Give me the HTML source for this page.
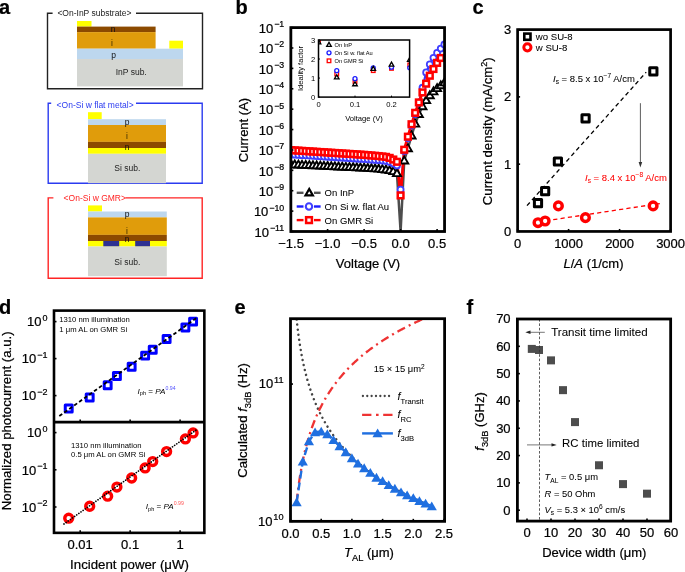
<!DOCTYPE html>
<html><head><meta charset="utf-8"><style>
html,body{margin:0;padding:0;background:#fff;width:685px;height:572px;overflow:hidden}
svg{display:block;will-change:transform}
text{font-family:'Liberation Sans', sans-serif}
</style></head><body>
<svg width="685" height="572" viewBox="0 0 685 572" font-family="'Liberation Sans', sans-serif">
<rect width="685" height="572" fill="#fff"/>
<text x="-1" y="14" font-size="20" font-weight="bold" stroke="#000" stroke-width="0.22">a</text>
<text x="235.5" y="14" font-size="20" font-weight="bold" stroke="#000" stroke-width="0.22">b</text>
<text x="472.5" y="14" font-size="20" font-weight="bold" stroke="#000" stroke-width="0.22">c</text>
<text x="-1" y="314" font-size="20" font-weight="bold" stroke="#000" stroke-width="0.22">d</text>
<text x="234.5" y="314.3" font-size="20" font-weight="bold" stroke="#000" stroke-width="0.22">e</text>
<text x="466.5" y="313.6" font-size="20" font-weight="bold" stroke="#000" stroke-width="0.22">f</text>
<path d="M52.6,13.2 H47.5 V88.8 H202.5 V13.2 H136" fill="none" stroke="#222" stroke-width="1.4"/>
<rect x="77" y="21" width="14.5" height="5.6" fill="#ffff00"/>
<rect x="77" y="26.6" width="78.6" height="5.5" fill="#8c4a00"/>
<rect x="77" y="32.1" width="78.6" height="16.6" fill="#e09c0b"/>
<rect x="169.3" y="40.7" width="13.7" height="8" fill="#ffff00"/>
<rect x="77" y="48.7" width="106" height="10.3" fill="#bdd7ee"/>
<rect x="77" y="59" width="106" height="27.4" fill="#d4d6d2"/>
<text x="57.4" y="16.1" font-size="8.5" fill="#1a1a1a" stroke="#1a1a1a" stroke-width="0">&lt;On-InP substrate&gt;</text>
<text x="113" y="31.7" font-size="8.5" text-anchor="middle" fill="#111" stroke="#111" stroke-width="0">n</text>
<text x="112" y="45.7" font-size="8.5" text-anchor="middle" fill="#3a2a00" stroke="#3a2a00" stroke-width="0">i</text>
<text x="113.5" y="58.3" font-size="8.5" text-anchor="middle" fill="#111" stroke="#111" stroke-width="0">p</text>
<text x="115.7" y="75" font-size="8.5" fill="#222" stroke="#222" stroke-width="0">InP sub.</text>
<path d="M51.2,103.2 H48.2 V183.2 H202.2 V103.2 H136" fill="none" stroke="#2b3bf0" stroke-width="1.4"/>
<rect x="88" y="112.2" width="13.7" height="7" fill="#ffff00"/>
<rect x="88" y="119.2" width="78" height="5.8" fill="#bdd7ee"/>
<rect x="88" y="125" width="78" height="16.9" fill="#e09c0b"/>
<rect x="88" y="141.9" width="78" height="6.1" fill="#8c4a00"/>
<rect x="88" y="148" width="78" height="5.8" fill="#ffff00"/>
<rect x="88" y="153.8" width="78" height="29.4" fill="#d4d6d2"/>
<text x="56.6" y="107.6" font-size="8.5" fill="#2b3bf0" stroke="#2b3bf0" stroke-width="0">&lt;On-Si w flat metal&gt;</text>
<text x="127" y="125" font-size="8.5" text-anchor="middle" fill="#111" stroke="#111" stroke-width="0">p</text>
<text x="126.9" y="138.6" font-size="8.5" text-anchor="middle" fill="#3a2a00" stroke="#3a2a00" stroke-width="0">i</text>
<text x="127" y="150.3" font-size="8.5" text-anchor="middle" fill="#111" stroke="#111" stroke-width="0">n</text>
<text x="114.3" y="171.3" font-size="8.5" fill="#222" stroke="#222" stroke-width="0">Si sub.</text>
<path d="M53.4,197.9 H48.2 V278.3 H202.2 V197.9 H125.5" fill="none" stroke="#ff2424" stroke-width="1.4"/>
<rect x="88" y="205.4" width="14" height="6.1" fill="#ffff00"/>
<rect x="88" y="211.5" width="78.8" height="5.9" fill="#bdd7ee"/>
<rect x="88" y="217.4" width="78.8" height="17.5" fill="#e09c0b"/>
<rect x="88" y="234.9" width="78.8" height="6.1" fill="#8c4a00"/>
<rect x="88" y="241" width="78.8" height="5.5" fill="#ffff00"/>
<rect x="103.3" y="241" width="15.9" height="5.5" fill="#2e3192"/>
<rect x="135.2" y="241" width="14.8" height="5.5" fill="#2e3192"/>
<rect x="88" y="246.5" width="78.8" height="29.7" fill="#d4d6d2"/>
<text x="63.6" y="200.8" font-size="8.5" fill="#ff2424" stroke="#ff2424" stroke-width="0">&lt;On-Si w GMR&gt;</text>
<text x="127" y="217.1" font-size="8.5" text-anchor="middle" fill="#111" stroke="#111" stroke-width="0">p</text>
<text x="126.9" y="233.7" font-size="8.5" text-anchor="middle" fill="#3a2a00" stroke="#3a2a00" stroke-width="0">i</text>
<text x="127" y="242.4" font-size="8.5" text-anchor="middle" fill="#111" stroke="#111" stroke-width="0">n</text>
<text x="114.3" y="264.8" font-size="8.5" fill="#222" stroke="#222" stroke-width="0">Si sub.</text>
<clipPath id="cb"><rect x="290.85" y="27.6" width="153.7" height="203.9"/></clipPath>
<g clip-path="url(#cb)">
<polyline points="291.1,164.42 294.75,164.59 298.4,164.76 302.05,164.93 305.7,165.11 309.35,165.28 313,165.45 316.65,165.62 320.3,165.8 323.95,165.97 327.6,166.14 331.25,166.31 334.9,166.49 338.55,166.66 342.2,166.83 345.85,167.01 349.5,167.18 353.15,167.36 356.8,167.53 360.45,167.71 364.1,167.88 367.75,168.14 371.4,168.39 375.05,168.65 378.7,168.9 382.35,169.31 386,169.72 389.65,170.33 393.3,171.35 396.95,173.39 400.6,231.5 404.25,160.75 407.9,148.51 411.55,135.67 415.2,123.84 418.85,114.26 422.5,106.51 426.15,100.39 429.8,95.5 433.45,91.62 437.1,88.36 440.75,85.51 444.4,82.65" fill="none" stroke="#4d4d4d" stroke-width="2.5" stroke-linejoin="round"/>
<polyline points="291.1,154.43 294.75,154.66 298.4,154.9 302.05,155.13 305.7,155.37 309.35,155.6 313,155.84 316.65,156.07 320.3,156.31 323.95,156.54 327.6,156.78 331.25,157.01 334.9,157.25 338.55,157.48 342.2,157.72 345.85,157.95 349.5,158.18 353.15,158.42 356.8,158.65 360.45,158.88 364.1,159.12 367.75,159.37 371.4,159.63 375.05,159.88 378.7,160.14 382.35,160.54 386,160.95 389.65,161.97 393.3,163.4 396.95,165.44 400.6,189.7 404.25,150.96 407.9,138.11 411.55,125.47 415.2,114.05 418.85,102.64 422.5,87.75 426.15,72.46 429.8,64.3 433.45,57.78 437.1,52.88 440.75,48.6 444.4,44.52" fill="none" stroke="#3333ff" stroke-width="2.2" stroke-linejoin="round"/>
<polyline points="291.1,150.14 294.75,150.38 298.4,150.61 302.05,150.85 305.7,151.08 309.35,151.32 313,151.56 316.65,151.79 320.3,152.03 323.95,152.26 327.6,152.5 331.25,152.73 334.9,152.97 338.55,153.2 342.2,153.44 345.85,153.67 349.5,153.9 353.15,154.13 356.8,154.37 360.45,154.6 364.1,154.83 367.75,155.14 371.4,155.45 375.05,155.75 378.7,156.06 382.35,156.46 386,156.87 389.65,157.89 393.3,159.52 396.95,161.77 400.6,195.41 404.25,149.74 407.9,136.69 411.55,124.25 415.2,112.83 418.85,102.43 422.5,92.44 426.15,83.67 429.8,75.72 433.45,68.99 437.1,62.87 440.75,57.98" fill="none" stroke="#ff0000" stroke-width="2.8" stroke-linejoin="round"/>
<polygon points="291.1,160.26 287.1,167.19 295.1,167.19" fill="#fff" stroke="#000" stroke-width="1.9" stroke-linejoin="miter"/>
<polygon points="294.75,160.43 290.75,167.36 298.75,167.36" fill="#fff" stroke="#000" stroke-width="1.9" stroke-linejoin="miter"/>
<polygon points="298.4,160.61 294.4,167.53 302.4,167.53" fill="#fff" stroke="#000" stroke-width="1.9" stroke-linejoin="miter"/>
<polygon points="302.05,160.78 298.05,167.71 306.05,167.71" fill="#fff" stroke="#000" stroke-width="1.9" stroke-linejoin="miter"/>
<polygon points="305.7,160.95 301.7,167.88 309.7,167.88" fill="#fff" stroke="#000" stroke-width="1.9" stroke-linejoin="miter"/>
<polygon points="309.35,161.12 305.35,168.05 313.35,168.05" fill="#fff" stroke="#000" stroke-width="1.9" stroke-linejoin="miter"/>
<polygon points="313,161.3 309,168.22 317,168.22" fill="#fff" stroke="#000" stroke-width="1.9" stroke-linejoin="miter"/>
<polygon points="316.65,161.47 312.65,168.4 320.65,168.4" fill="#fff" stroke="#000" stroke-width="1.9" stroke-linejoin="miter"/>
<polygon points="320.3,161.64 316.3,168.57 324.3,168.57" fill="#fff" stroke="#000" stroke-width="1.9" stroke-linejoin="miter"/>
<polygon points="323.95,161.81 319.95,168.74 327.95,168.74" fill="#fff" stroke="#000" stroke-width="1.9" stroke-linejoin="miter"/>
<polygon points="327.6,161.99 323.6,168.91 331.6,168.91" fill="#fff" stroke="#000" stroke-width="1.9" stroke-linejoin="miter"/>
<polygon points="331.25,162.16 327.25,169.09 335.25,169.09" fill="#fff" stroke="#000" stroke-width="1.9" stroke-linejoin="miter"/>
<polygon points="334.9,162.33 330.9,169.26 338.9,169.26" fill="#fff" stroke="#000" stroke-width="1.9" stroke-linejoin="miter"/>
<polygon points="338.55,162.5 334.55,169.43 342.55,169.43" fill="#fff" stroke="#000" stroke-width="1.9" stroke-linejoin="miter"/>
<polygon points="342.2,162.68 338.2,169.61 346.2,169.61" fill="#fff" stroke="#000" stroke-width="1.9" stroke-linejoin="miter"/>
<polygon points="345.85,162.85 341.85,169.78 349.85,169.78" fill="#fff" stroke="#000" stroke-width="1.9" stroke-linejoin="miter"/>
<polygon points="349.5,163.03 345.5,169.96 353.5,169.96" fill="#fff" stroke="#000" stroke-width="1.9" stroke-linejoin="miter"/>
<polygon points="353.15,163.2 349.15,170.13 357.15,170.13" fill="#fff" stroke="#000" stroke-width="1.9" stroke-linejoin="miter"/>
<polygon points="356.8,163.38 352.8,170.3 360.8,170.3" fill="#fff" stroke="#000" stroke-width="1.9" stroke-linejoin="miter"/>
<polygon points="360.45,163.55 356.45,170.48 364.45,170.48" fill="#fff" stroke="#000" stroke-width="1.9" stroke-linejoin="miter"/>
<polygon points="364.1,163.73 360.1,170.65 368.1,170.65" fill="#fff" stroke="#000" stroke-width="1.9" stroke-linejoin="miter"/>
<polygon points="367.75,163.98 363.75,170.91 371.75,170.91" fill="#fff" stroke="#000" stroke-width="1.9" stroke-linejoin="miter"/>
<polygon points="371.4,164.24 367.4,171.16 375.4,171.16" fill="#fff" stroke="#000" stroke-width="1.9" stroke-linejoin="miter"/>
<polygon points="375.05,164.49 371.05,171.42 379.05,171.42" fill="#fff" stroke="#000" stroke-width="1.9" stroke-linejoin="miter"/>
<polygon points="378.7,164.75 374.7,171.67 382.7,171.67" fill="#fff" stroke="#000" stroke-width="1.9" stroke-linejoin="miter"/>
<polygon points="382.35,165.15 378.35,172.08 386.35,172.08" fill="#fff" stroke="#000" stroke-width="1.9" stroke-linejoin="miter"/>
<polygon points="386,165.56 382,172.49 390,172.49" fill="#fff" stroke="#000" stroke-width="1.9" stroke-linejoin="miter"/>
<polygon points="389.65,166.17 385.65,173.1 393.65,173.1" fill="#fff" stroke="#000" stroke-width="1.9" stroke-linejoin="miter"/>
<polygon points="393.3,167.19 389.3,174.12 397.3,174.12" fill="#fff" stroke="#000" stroke-width="1.9" stroke-linejoin="miter"/>
<polygon points="396.95,169.23 392.95,176.16 400.95,176.16" fill="#fff" stroke="#000" stroke-width="1.9" stroke-linejoin="miter"/>
<polygon points="404.25,156.59 400.25,163.52 408.25,163.52" fill="#fff" stroke="#000" stroke-width="1.9" stroke-linejoin="miter"/>
<polygon points="407.9,144.36 403.9,151.28 411.9,151.28" fill="#fff" stroke="#000" stroke-width="1.9" stroke-linejoin="miter"/>
<polygon points="411.55,131.51 407.55,138.44 415.55,138.44" fill="#fff" stroke="#000" stroke-width="1.9" stroke-linejoin="miter"/>
<polygon points="415.2,119.68 411.2,126.61 419.2,126.61" fill="#fff" stroke="#000" stroke-width="1.9" stroke-linejoin="miter"/>
<polygon points="418.85,110.1 414.85,117.03 422.85,117.03" fill="#fff" stroke="#000" stroke-width="1.9" stroke-linejoin="miter"/>
<polygon points="422.5,102.35 418.5,109.28 426.5,109.28" fill="#fff" stroke="#000" stroke-width="1.9" stroke-linejoin="miter"/>
<polygon points="426.15,96.24 422.15,103.16 430.15,103.16" fill="#fff" stroke="#000" stroke-width="1.9" stroke-linejoin="miter"/>
<polygon points="429.8,91.34 425.8,98.27 433.8,98.27" fill="#fff" stroke="#000" stroke-width="1.9" stroke-linejoin="miter"/>
<polygon points="433.45,87.47 429.45,94.4 437.45,94.4" fill="#fff" stroke="#000" stroke-width="1.9" stroke-linejoin="miter"/>
<polygon points="437.1,84.21 433.1,91.13 441.1,91.13" fill="#fff" stroke="#000" stroke-width="1.9" stroke-linejoin="miter"/>
<polygon points="440.75,81.35 436.75,88.28 444.75,88.28" fill="#fff" stroke="#000" stroke-width="1.9" stroke-linejoin="miter"/>
<polygon points="444.4,78.5 440.4,85.42 448.4,85.42" fill="#fff" stroke="#000" stroke-width="1.9" stroke-linejoin="miter"/>
<circle cx="291.1" cy="154.43" r="3" fill="#fff" stroke="#4040ff" stroke-width="1.8"/>
<circle cx="294.75" cy="154.66" r="3" fill="#fff" stroke="#4040ff" stroke-width="1.8"/>
<circle cx="298.4" cy="154.9" r="3" fill="#fff" stroke="#4040ff" stroke-width="1.8"/>
<circle cx="302.05" cy="155.13" r="3" fill="#fff" stroke="#4040ff" stroke-width="1.8"/>
<circle cx="305.7" cy="155.37" r="3" fill="#fff" stroke="#4040ff" stroke-width="1.8"/>
<circle cx="309.35" cy="155.6" r="3" fill="#fff" stroke="#4040ff" stroke-width="1.8"/>
<circle cx="313" cy="155.84" r="3" fill="#fff" stroke="#4040ff" stroke-width="1.8"/>
<circle cx="316.65" cy="156.07" r="3" fill="#fff" stroke="#4040ff" stroke-width="1.8"/>
<circle cx="320.3" cy="156.31" r="3" fill="#fff" stroke="#4040ff" stroke-width="1.8"/>
<circle cx="323.95" cy="156.54" r="3" fill="#fff" stroke="#4040ff" stroke-width="1.8"/>
<circle cx="327.6" cy="156.78" r="3" fill="#fff" stroke="#4040ff" stroke-width="1.8"/>
<circle cx="331.25" cy="157.01" r="3" fill="#fff" stroke="#4040ff" stroke-width="1.8"/>
<circle cx="334.9" cy="157.25" r="3" fill="#fff" stroke="#4040ff" stroke-width="1.8"/>
<circle cx="338.55" cy="157.48" r="3" fill="#fff" stroke="#4040ff" stroke-width="1.8"/>
<circle cx="342.2" cy="157.72" r="3" fill="#fff" stroke="#4040ff" stroke-width="1.8"/>
<circle cx="345.85" cy="157.95" r="3" fill="#fff" stroke="#4040ff" stroke-width="1.8"/>
<circle cx="349.5" cy="158.18" r="3" fill="#fff" stroke="#4040ff" stroke-width="1.8"/>
<circle cx="353.15" cy="158.42" r="3" fill="#fff" stroke="#4040ff" stroke-width="1.8"/>
<circle cx="356.8" cy="158.65" r="3" fill="#fff" stroke="#4040ff" stroke-width="1.8"/>
<circle cx="360.45" cy="158.88" r="3" fill="#fff" stroke="#4040ff" stroke-width="1.8"/>
<circle cx="364.1" cy="159.12" r="3" fill="#fff" stroke="#4040ff" stroke-width="1.8"/>
<circle cx="367.75" cy="159.37" r="3" fill="#fff" stroke="#4040ff" stroke-width="1.8"/>
<circle cx="371.4" cy="159.63" r="3" fill="#fff" stroke="#4040ff" stroke-width="1.8"/>
<circle cx="375.05" cy="159.88" r="3" fill="#fff" stroke="#4040ff" stroke-width="1.8"/>
<circle cx="378.7" cy="160.14" r="3" fill="#fff" stroke="#4040ff" stroke-width="1.8"/>
<circle cx="382.35" cy="160.54" r="3" fill="#fff" stroke="#4040ff" stroke-width="1.8"/>
<circle cx="386" cy="160.95" r="3" fill="#fff" stroke="#4040ff" stroke-width="1.8"/>
<circle cx="389.65" cy="161.97" r="3" fill="#fff" stroke="#4040ff" stroke-width="1.8"/>
<circle cx="393.3" cy="163.4" r="3" fill="#fff" stroke="#4040ff" stroke-width="1.8"/>
<circle cx="396.95" cy="165.44" r="3" fill="#fff" stroke="#4040ff" stroke-width="1.8"/>
<circle cx="400.6" cy="189.7" r="3" fill="#fff" stroke="#4040ff" stroke-width="1.8"/>
<circle cx="404.25" cy="150.96" r="3" fill="#fff" stroke="#4040ff" stroke-width="1.8"/>
<circle cx="407.9" cy="138.11" r="3" fill="#fff" stroke="#4040ff" stroke-width="1.8"/>
<circle cx="411.55" cy="125.47" r="3" fill="#fff" stroke="#4040ff" stroke-width="1.8"/>
<circle cx="415.2" cy="114.05" r="3" fill="#fff" stroke="#4040ff" stroke-width="1.8"/>
<circle cx="418.85" cy="102.64" r="3" fill="#fff" stroke="#4040ff" stroke-width="1.8"/>
<circle cx="422.5" cy="87.75" r="3" fill="#fff" stroke="#4040ff" stroke-width="1.8"/>
<circle cx="426.15" cy="72.46" r="3" fill="#fff" stroke="#4040ff" stroke-width="1.8"/>
<circle cx="429.8" cy="64.3" r="3" fill="#fff" stroke="#4040ff" stroke-width="1.8"/>
<circle cx="433.45" cy="57.78" r="3" fill="#fff" stroke="#4040ff" stroke-width="1.8"/>
<circle cx="437.1" cy="52.88" r="3" fill="#fff" stroke="#4040ff" stroke-width="1.8"/>
<circle cx="440.75" cy="48.6" r="3" fill="#fff" stroke="#4040ff" stroke-width="1.8"/>
<circle cx="444.4" cy="44.52" r="3" fill="#fff" stroke="#4040ff" stroke-width="1.8"/>
<rect x="288.25" y="147.29" width="5.7" height="5.7" fill="#fff" stroke="#ff0000" stroke-width="2.5"/>
<rect x="291.9" y="147.53" width="5.7" height="5.7" fill="#fff" stroke="#ff0000" stroke-width="2.5"/>
<rect x="295.55" y="147.76" width="5.7" height="5.7" fill="#fff" stroke="#ff0000" stroke-width="2.5"/>
<rect x="299.2" y="148" width="5.7" height="5.7" fill="#fff" stroke="#ff0000" stroke-width="2.5"/>
<rect x="302.85" y="148.23" width="5.7" height="5.7" fill="#fff" stroke="#ff0000" stroke-width="2.5"/>
<rect x="306.5" y="148.47" width="5.7" height="5.7" fill="#fff" stroke="#ff0000" stroke-width="2.5"/>
<rect x="310.15" y="148.71" width="5.7" height="5.7" fill="#fff" stroke="#ff0000" stroke-width="2.5"/>
<rect x="313.8" y="148.94" width="5.7" height="5.7" fill="#fff" stroke="#ff0000" stroke-width="2.5"/>
<rect x="317.45" y="149.18" width="5.7" height="5.7" fill="#fff" stroke="#ff0000" stroke-width="2.5"/>
<rect x="321.1" y="149.41" width="5.7" height="5.7" fill="#fff" stroke="#ff0000" stroke-width="2.5"/>
<rect x="324.75" y="149.65" width="5.7" height="5.7" fill="#fff" stroke="#ff0000" stroke-width="2.5"/>
<rect x="328.4" y="149.88" width="5.7" height="5.7" fill="#fff" stroke="#ff0000" stroke-width="2.5"/>
<rect x="332.05" y="150.12" width="5.7" height="5.7" fill="#fff" stroke="#ff0000" stroke-width="2.5"/>
<rect x="335.7" y="150.35" width="5.7" height="5.7" fill="#fff" stroke="#ff0000" stroke-width="2.5"/>
<rect x="339.35" y="150.59" width="5.7" height="5.7" fill="#fff" stroke="#ff0000" stroke-width="2.5"/>
<rect x="343" y="150.82" width="5.7" height="5.7" fill="#fff" stroke="#ff0000" stroke-width="2.5"/>
<rect x="346.65" y="151.05" width="5.7" height="5.7" fill="#fff" stroke="#ff0000" stroke-width="2.5"/>
<rect x="350.3" y="151.28" width="5.7" height="5.7" fill="#fff" stroke="#ff0000" stroke-width="2.5"/>
<rect x="353.95" y="151.52" width="5.7" height="5.7" fill="#fff" stroke="#ff0000" stroke-width="2.5"/>
<rect x="357.6" y="151.75" width="5.7" height="5.7" fill="#fff" stroke="#ff0000" stroke-width="2.5"/>
<rect x="361.25" y="151.98" width="5.7" height="5.7" fill="#fff" stroke="#ff0000" stroke-width="2.5"/>
<rect x="364.9" y="152.29" width="5.7" height="5.7" fill="#fff" stroke="#ff0000" stroke-width="2.5"/>
<rect x="368.55" y="152.6" width="5.7" height="5.7" fill="#fff" stroke="#ff0000" stroke-width="2.5"/>
<rect x="372.2" y="152.9" width="5.7" height="5.7" fill="#fff" stroke="#ff0000" stroke-width="2.5"/>
<rect x="375.85" y="153.21" width="5.7" height="5.7" fill="#fff" stroke="#ff0000" stroke-width="2.5"/>
<rect x="379.5" y="153.61" width="5.7" height="5.7" fill="#fff" stroke="#ff0000" stroke-width="2.5"/>
<rect x="383.15" y="154.02" width="5.7" height="5.7" fill="#fff" stroke="#ff0000" stroke-width="2.5"/>
<rect x="386.8" y="155.04" width="5.7" height="5.7" fill="#fff" stroke="#ff0000" stroke-width="2.5"/>
<rect x="390.45" y="156.67" width="5.7" height="5.7" fill="#fff" stroke="#ff0000" stroke-width="2.5"/>
<rect x="394.1" y="158.92" width="5.7" height="5.7" fill="#fff" stroke="#ff0000" stroke-width="2.5"/>
<rect x="397.75" y="192.56" width="5.7" height="5.7" fill="#fff" stroke="#ff0000" stroke-width="2.5"/>
<rect x="401.4" y="146.89" width="5.7" height="5.7" fill="#fff" stroke="#ff0000" stroke-width="2.5"/>
<rect x="405.05" y="133.84" width="5.7" height="5.7" fill="#fff" stroke="#ff0000" stroke-width="2.5"/>
<rect x="408.7" y="121.4" width="5.7" height="5.7" fill="#fff" stroke="#ff0000" stroke-width="2.5"/>
<rect x="412.35" y="109.98" width="5.7" height="5.7" fill="#fff" stroke="#ff0000" stroke-width="2.5"/>
<rect x="416" y="99.58" width="5.7" height="5.7" fill="#fff" stroke="#ff0000" stroke-width="2.5"/>
<rect x="419.65" y="89.59" width="5.7" height="5.7" fill="#fff" stroke="#ff0000" stroke-width="2.5"/>
<rect x="423.3" y="80.82" width="5.7" height="5.7" fill="#fff" stroke="#ff0000" stroke-width="2.5"/>
<rect x="426.95" y="72.87" width="5.7" height="5.7" fill="#fff" stroke="#ff0000" stroke-width="2.5"/>
<rect x="430.6" y="66.14" width="5.7" height="5.7" fill="#fff" stroke="#ff0000" stroke-width="2.5"/>
<rect x="434.25" y="60.02" width="5.7" height="5.7" fill="#fff" stroke="#ff0000" stroke-width="2.5"/>
<rect x="437.9" y="55.13" width="5.7" height="5.7" fill="#fff" stroke="#ff0000" stroke-width="2.5"/>
</g>
<rect x="290.85" y="27.6" width="153.7" height="203.9" fill="none" stroke="#000" stroke-width="2.8"/>
<line x1="290.85" y1="27.6" x2="293.35" y2="27.6" stroke="#000" stroke-width="1.6"/>
<line x1="290.85" y1="47.99" x2="293.35" y2="47.99" stroke="#000" stroke-width="1.6"/>
<line x1="290.85" y1="68.38" x2="293.35" y2="68.38" stroke="#000" stroke-width="1.6"/>
<line x1="290.85" y1="88.77" x2="293.35" y2="88.77" stroke="#000" stroke-width="1.6"/>
<line x1="290.85" y1="109.16" x2="293.35" y2="109.16" stroke="#000" stroke-width="1.6"/>
<line x1="290.85" y1="129.55" x2="293.35" y2="129.55" stroke="#000" stroke-width="1.6"/>
<line x1="290.85" y1="149.94" x2="293.35" y2="149.94" stroke="#000" stroke-width="1.6"/>
<line x1="290.85" y1="170.33" x2="293.35" y2="170.33" stroke="#000" stroke-width="1.6"/>
<line x1="290.85" y1="190.72" x2="293.35" y2="190.72" stroke="#000" stroke-width="1.6"/>
<line x1="290.85" y1="211.11" x2="293.35" y2="211.11" stroke="#000" stroke-width="1.6"/>
<line x1="290.85" y1="231.5" x2="293.35" y2="231.5" stroke="#000" stroke-width="1.6"/>
<line x1="291.1" y1="231.5" x2="291.1" y2="229" stroke="#000" stroke-width="1.6"/>
<line x1="327.6" y1="231.5" x2="327.6" y2="229" stroke="#000" stroke-width="1.6"/>
<line x1="364.1" y1="231.5" x2="364.1" y2="229" stroke="#000" stroke-width="1.6"/>
<line x1="400.6" y1="231.5" x2="400.6" y2="229" stroke="#000" stroke-width="1.6"/>
<line x1="437.1" y1="231.5" x2="437.1" y2="229" stroke="#000" stroke-width="1.6"/>
<text x="284.2" y="32.9" font-size="13" text-anchor="end" stroke="#000" stroke-width="0.22">10<tspan font-size="8.8" dx="0.9" dy="-5.9">−1</tspan></text>
<text x="284.2" y="53.29" font-size="13" text-anchor="end" stroke="#000" stroke-width="0.22">10<tspan font-size="8.8" dx="0.9" dy="-5.9">−2</tspan></text>
<text x="284.2" y="73.68" font-size="13" text-anchor="end" stroke="#000" stroke-width="0.22">10<tspan font-size="8.8" dx="0.9" dy="-5.9">−3</tspan></text>
<text x="284.2" y="94.07" font-size="13" text-anchor="end" stroke="#000" stroke-width="0.22">10<tspan font-size="8.8" dx="0.9" dy="-5.9">−4</tspan></text>
<text x="284.2" y="114.46" font-size="13" text-anchor="end" stroke="#000" stroke-width="0.22">10<tspan font-size="8.8" dx="0.9" dy="-5.9">−5</tspan></text>
<text x="284.2" y="134.85" font-size="13" text-anchor="end" stroke="#000" stroke-width="0.22">10<tspan font-size="8.8" dx="0.9" dy="-5.9">−6</tspan></text>
<text x="284.2" y="155.24" font-size="13" text-anchor="end" stroke="#000" stroke-width="0.22">10<tspan font-size="8.8" dx="0.9" dy="-5.9">−7</tspan></text>
<text x="284.2" y="175.63" font-size="13" text-anchor="end" stroke="#000" stroke-width="0.22">10<tspan font-size="8.8" dx="0.9" dy="-5.9">−8</tspan></text>
<text x="284.2" y="196.02" font-size="13" text-anchor="end" stroke="#000" stroke-width="0.22">10<tspan font-size="8.8" dx="0.9" dy="-5.9">−9</tspan></text>
<text x="284.2" y="216.41" font-size="13" text-anchor="end" stroke="#000" stroke-width="0.22">10<tspan font-size="8.8" dx="0.9" dy="-5.9">−10</tspan></text>
<text x="284.2" y="236.8" font-size="13" text-anchor="end" stroke="#000" stroke-width="0.22">10<tspan font-size="8.8" dx="0.9" dy="-5.9">−11</tspan></text>
<text x="291.1" y="248.1" font-size="13" text-anchor="middle" stroke="#000" stroke-width="0.22">−1.5</text>
<text x="327.6" y="248.1" font-size="13" text-anchor="middle" stroke="#000" stroke-width="0.22">−1.0</text>
<text x="364.1" y="248.1" font-size="13" text-anchor="middle" stroke="#000" stroke-width="0.22">−0.5</text>
<text x="400.6" y="248.1" font-size="13" text-anchor="middle" stroke="#000" stroke-width="0.22">0.0</text>
<text x="437.1" y="248.1" font-size="13" text-anchor="middle" stroke="#000" stroke-width="0.22">0.5</text>
<text x="368" y="267.7" font-size="13" text-anchor="middle" stroke="#000" stroke-width="0.22">Voltage (V)</text>
<text transform="translate(247.7,130) rotate(-90)" font-size="13" text-anchor="middle" stroke="#000" stroke-width="0.22">Current (A)</text>
<line x1="296.7" y1="192.8" x2="303.5" y2="192.8" stroke="#555" stroke-width="2.4"/>
<line x1="314" y1="192.8" x2="320.6" y2="192.8" stroke="#555" stroke-width="2.4"/>
<polygon points="309.2,188.95 305.5,195.36 312.9,195.36" fill="#fff" stroke="#000" stroke-width="2.2" stroke-linejoin="miter"/>
<text x="324.6" y="196.3" font-size="9.5" stroke="#000" stroke-width="0.05">On InP</text>
<line x1="296.7" y1="206.5" x2="303.5" y2="206.5" stroke="#1a1aff" stroke-width="2.4"/>
<line x1="314" y1="206.5" x2="320.6" y2="206.5" stroke="#1a1aff" stroke-width="2.4"/>
<circle cx="309" cy="206.5" r="3.2" fill="#fff" stroke="#4040ff" stroke-width="2.1"/>
<text x="324.6" y="210" font-size="9.5" stroke="#000" stroke-width="0.05">On Si w. flat Au</text>
<line x1="296.7" y1="220.1" x2="303.5" y2="220.1" stroke="#ff0000" stroke-width="2.4"/>
<line x1="314" y1="220.1" x2="320.6" y2="220.1" stroke="#ff0000" stroke-width="2.4"/>
<rect x="306.1" y="217.2" width="5.8" height="5.8" fill="#fff" stroke="#ff0000" stroke-width="2.5"/>
<text x="324.6" y="223.6" font-size="9.5" stroke="#000" stroke-width="0.05">On GMR Si</text>
<rect x="318.5" y="40" width="91.1" height="57.1" fill="#fff"/>
<clipPath id="ci"><rect x="318.5" y="40.0" width="91.1" height="57.1"/></clipPath>
<g clip-path="url(#ci)">
<rect x="316.7" y="39.53" width="3.6" height="3.6" fill="#fff" stroke="#ff0000" stroke-width="1.3"/>
<rect x="334.95" y="72.27" width="3.6" height="3.6" fill="#fff" stroke="#ff0000" stroke-width="1.3"/>
<rect x="353.2" y="79.88" width="3.6" height="3.6" fill="#fff" stroke="#ff0000" stroke-width="1.3"/>
<rect x="371.45" y="68.84" width="3.6" height="3.6" fill="#fff" stroke="#ff0000" stroke-width="1.3"/>
<rect x="389.7" y="66.56" width="3.6" height="3.6" fill="#fff" stroke="#ff0000" stroke-width="1.3"/>
<rect x="407.95" y="63.13" width="3.6" height="3.6" fill="#fff" stroke="#ff0000" stroke-width="1.3"/>
<circle cx="336.75" cy="70.64" r="2" fill="#fff" stroke="#1a1aff" stroke-width="1.3"/>
<circle cx="355" cy="78.64" r="2" fill="#fff" stroke="#1a1aff" stroke-width="1.3"/>
<circle cx="373.25" cy="67.79" r="2" fill="#fff" stroke="#1a1aff" stroke-width="1.3"/>
<circle cx="391.5" cy="67.22" r="2" fill="#fff" stroke="#1a1aff" stroke-width="1.3"/>
<circle cx="409.75" cy="67.79" r="2" fill="#fff" stroke="#1a1aff" stroke-width="1.3"/>
<polygon points="318.5,39.89 316.2,43.88 320.8,43.88" fill="#fff" stroke="#000" stroke-width="1.3" stroke-linejoin="miter"/>
<polygon points="336.75,74.92 334.45,78.9 339.05,78.9" fill="#fff" stroke="#000" stroke-width="1.3" stroke-linejoin="miter"/>
<polygon points="355,81.77 352.7,85.75 357.3,85.75" fill="#fff" stroke="#000" stroke-width="1.3" stroke-linejoin="miter"/>
<polygon points="373.25,66.35 370.95,70.33 375.55,70.33" fill="#fff" stroke="#000" stroke-width="1.3" stroke-linejoin="miter"/>
<polygon points="391.5,62.16 389.2,66.15 393.8,66.15" fill="#fff" stroke="#000" stroke-width="1.3" stroke-linejoin="miter"/>
<polygon points="409.75,57.4 407.45,61.39 412.05,61.39" fill="#fff" stroke="#000" stroke-width="1.3" stroke-linejoin="miter"/>
</g>
<rect x="318.5" y="40" width="91.1" height="57.1" fill="none" stroke="#000" stroke-width="1.5"/>
<line x1="318.5" y1="97.1" x2="320" y2="97.1" stroke="#000" stroke-width="1"/>
<text x="315.2" y="99.8" font-size="7.6" text-anchor="end" stroke="#000" stroke-width="0">0</text>
<line x1="318.5" y1="78.07" x2="320" y2="78.07" stroke="#000" stroke-width="1"/>
<text x="315.2" y="80.77" font-size="7.6" text-anchor="end" stroke="#000" stroke-width="0">1</text>
<line x1="318.5" y1="59.03" x2="320" y2="59.03" stroke="#000" stroke-width="1"/>
<text x="315.2" y="61.73" font-size="7.6" text-anchor="end" stroke="#000" stroke-width="0">2</text>
<line x1="318.5" y1="40" x2="320" y2="40" stroke="#000" stroke-width="1"/>
<text x="315.2" y="42.7" font-size="7.6" text-anchor="end" stroke="#000" stroke-width="0">3</text>
<line x1="318.5" y1="97.1" x2="318.5" y2="95.6" stroke="#000" stroke-width="1"/>
<text x="318.5" y="107.3" font-size="7.6" text-anchor="middle" stroke="#000" stroke-width="0">0</text>
<line x1="355" y1="97.1" x2="355" y2="95.6" stroke="#000" stroke-width="1"/>
<text x="355" y="107.3" font-size="7.6" text-anchor="middle" stroke="#000" stroke-width="0">0.1</text>
<line x1="391.5" y1="97.1" x2="391.5" y2="95.6" stroke="#000" stroke-width="1"/>
<text x="391.5" y="107.3" font-size="7.6" text-anchor="middle" stroke="#000" stroke-width="0">0.2</text>
<text x="364" y="120.6" font-size="7.6" text-anchor="middle" stroke="#000" stroke-width="0">Voltage (V)</text>
<text transform="translate(302.8,68.5) rotate(-90)" font-size="7.6" text-anchor="middle" stroke="#000" stroke-width="0">Ideality factor</text>
<polygon points="329,42.41 326.7,46.39 331.3,46.39" fill="#fff" stroke="#000" stroke-width="1.3" stroke-linejoin="miter"/>
<text x="334.5" y="46.9" font-size="5.65" stroke="#000" stroke-width="0">On InP</text>
<circle cx="329" cy="52.8" r="2" fill="#fff" stroke="#1a1aff" stroke-width="1.3"/>
<text x="334.5" y="54.9" font-size="5.65" stroke="#000" stroke-width="0">On Si w. flat Au</text>
<rect x="327.2" y="59" width="3.6" height="3.6" fill="#fff" stroke="#ff0000" stroke-width="1.3"/>
<text x="334.5" y="62.9" font-size="5.65" stroke="#000" stroke-width="0">On GMR Si</text>
<line x1="527" y1="205.6" x2="646.2" y2="72.2" stroke="#000" stroke-width="1.3" stroke-dasharray="4.2,3.2"/>
<line x1="545.9" y1="220.8" x2="662" y2="203.2" stroke="#ff0000" stroke-width="1.3" stroke-dasharray="4.2,3.2"/>
<rect x="534.4" y="199.59" width="7.2" height="7.2" fill="#fff" stroke="#000" stroke-width="3" stroke-linejoin="round"/>
<rect x="541.54" y="187.48" width="7.2" height="7.2" fill="#fff" stroke="#000" stroke-width="3" stroke-linejoin="round"/>
<rect x="554.29" y="157.88" width="7.2" height="7.2" fill="#fff" stroke="#000" stroke-width="3" stroke-linejoin="round"/>
<rect x="581.98" y="114.81" width="7.2" height="7.2" fill="#fff" stroke="#000" stroke-width="3" stroke-linejoin="round"/>
<rect x="649.76" y="67.72" width="7.2" height="7.2" fill="#fff" stroke="#000" stroke-width="3" stroke-linejoin="round"/>
<circle cx="538" cy="222.7" r="3.85" fill="#fff" stroke="#ff0000" stroke-width="3.4"/>
<circle cx="545.14" cy="221.02" r="3.85" fill="#fff" stroke="#ff0000" stroke-width="3.4"/>
<circle cx="558.4" cy="205.88" r="3.85" fill="#fff" stroke="#ff0000" stroke-width="3.4"/>
<circle cx="585.43" cy="217.66" r="3.85" fill="#fff" stroke="#ff0000" stroke-width="3.4"/>
<circle cx="653.11" cy="205.88" r="3.85" fill="#fff" stroke="#ff0000" stroke-width="3.4"/>
<rect x="517.6" y="29.6" width="153" height="201.85" fill="none" stroke="#000" stroke-width="2.7"/>
<line x1="517.6" y1="231.45" x2="520.1" y2="231.45" stroke="#000" stroke-width="1.6"/>
<text x="511.2" y="236.05" font-size="13" text-anchor="end" stroke="#000" stroke-width="0.22">0</text>
<line x1="517.6" y1="164.17" x2="520.1" y2="164.17" stroke="#000" stroke-width="1.6"/>
<text x="511.2" y="168.77" font-size="13" text-anchor="end" stroke="#000" stroke-width="0.22">1</text>
<line x1="517.6" y1="96.88" x2="520.1" y2="96.88" stroke="#000" stroke-width="1.6"/>
<text x="511.2" y="101.48" font-size="13" text-anchor="end" stroke="#000" stroke-width="0.22">2</text>
<line x1="517.6" y1="29.6" x2="520.1" y2="29.6" stroke="#000" stroke-width="1.6"/>
<text x="511.2" y="34.2" font-size="13" text-anchor="end" stroke="#000" stroke-width="0.22">3</text>
<line x1="517.6" y1="231.45" x2="517.6" y2="228.95" stroke="#000" stroke-width="1.6"/>
<text x="517.6" y="248.3" font-size="13" text-anchor="middle" stroke="#000" stroke-width="0.22">0</text>
<line x1="568.6" y1="231.45" x2="568.6" y2="228.95" stroke="#000" stroke-width="1.6"/>
<text x="568.6" y="248.3" font-size="13" text-anchor="middle" stroke="#000" stroke-width="0.22">1000</text>
<line x1="619.6" y1="231.45" x2="619.6" y2="228.95" stroke="#000" stroke-width="1.6"/>
<text x="619.6" y="248.3" font-size="13" text-anchor="middle" stroke="#000" stroke-width="0.22">2000</text>
<line x1="670.6" y1="231.45" x2="670.6" y2="228.95" stroke="#000" stroke-width="1.6"/>
<text x="670.6" y="248.3" font-size="13" text-anchor="middle" stroke="#000" stroke-width="0.22">3000</text>
<text x="593.5" y="267.7" font-size="13" text-anchor="middle" stroke="#000" stroke-width="0.22"><tspan font-style="italic">L</tspan>/<tspan font-style="italic">A</tspan> (1/cm)</text>
<text transform="translate(491.8,131.2) rotate(-90)" font-size="13.2" text-anchor="middle" stroke="#000" stroke-width="0.22">Current density (mA/cm<tspan font-size="9" dy="-5">2</tspan><tspan dy="5">)</tspan></text>
<rect x="524.3" y="33.6" width="6.2" height="6.2" fill="#fff" stroke="#000" stroke-width="2.6"/>
<circle cx="527.4" cy="47.3" r="3.6" fill="#fff" stroke="#ff0000" stroke-width="3.0"/>
<text x="535.8" y="40.2" font-size="9.6" stroke="#000" stroke-width="0.05">wo SU-8</text>
<text x="535.8" y="50.8" font-size="9.6" stroke="#000" stroke-width="0.05">w SU-8</text>
<text x="553" y="81.5" font-size="9.5" stroke="#000" stroke-width="0.05"><tspan font-style="italic">I</tspan><tspan font-size="6.6" dy="2">s</tspan><tspan dy="-2"> = 8.5 x 10</tspan><tspan font-size="6.6" dy="-4">−7</tspan><tspan dy="4"> A/cm</tspan></text>
<text x="585" y="180.8" font-size="9.5" fill="#ff0000" stroke="#ff0000" stroke-width="0.05"><tspan font-style="italic">I</tspan><tspan font-size="6.6" dy="2">s</tspan><tspan dy="-2"> = 8.4 x 10</tspan><tspan font-size="6.6" dy="-4">−8</tspan><tspan dy="4"> A/cm</tspan></text>
<line x1="640.4" y1="103.2" x2="640.4" y2="164" stroke="#333" stroke-width="0.8"/>
<polygon points="638.6,162 642.2,162 640.4,167.5" fill="#333"/>
<rect x="65.26" y="405.1" width="6.9" height="6.9" fill="#fff" stroke="#0000ff" stroke-width="3" stroke-linejoin="round"/>
<rect x="86.24" y="394" width="6.9" height="6.9" fill="#fff" stroke="#0000ff" stroke-width="3" stroke-linejoin="round"/>
<rect x="104.22" y="381.79" width="6.9" height="6.9" fill="#fff" stroke="#0000ff" stroke-width="3" stroke-linejoin="round"/>
<rect x="113.46" y="372.54" width="6.9" height="6.9" fill="#fff" stroke="#0000ff" stroke-width="3" stroke-linejoin="round"/>
<rect x="128.2" y="363.29" width="6.9" height="6.9" fill="#fff" stroke="#0000ff" stroke-width="3" stroke-linejoin="round"/>
<rect x="141.69" y="352.19" width="6.9" height="6.9" fill="#fff" stroke="#0000ff" stroke-width="3" stroke-linejoin="round"/>
<rect x="149.28" y="346.27" width="6.9" height="6.9" fill="#fff" stroke="#0000ff" stroke-width="3" stroke-linejoin="round"/>
<rect x="163.16" y="335.54" width="6.9" height="6.9" fill="#fff" stroke="#0000ff" stroke-width="3" stroke-linejoin="round"/>
<rect x="181.94" y="324.07" width="6.9" height="6.9" fill="#fff" stroke="#0000ff" stroke-width="3" stroke-linejoin="round"/>
<rect x="189.64" y="318.15" width="6.9" height="6.9" fill="#fff" stroke="#0000ff" stroke-width="3" stroke-linejoin="round"/>
<line x1="59.3" y1="416.1" x2="197.2" y2="317.5" stroke="#000" stroke-width="1.8" stroke-dasharray="3.6,2.5"/>
<circle cx="68.71" cy="518.16" r="3.95" fill="#fff" stroke="#ff0000" stroke-width="3.4"/>
<circle cx="89.69" cy="506.26" r="3.95" fill="#fff" stroke="#ff0000" stroke-width="3.4"/>
<circle cx="107.67" cy="496.21" r="3.95" fill="#fff" stroke="#ff0000" stroke-width="3.4"/>
<circle cx="116.91" cy="487.1" r="3.95" fill="#fff" stroke="#ff0000" stroke-width="3.4"/>
<circle cx="131.65" cy="477.98" r="3.95" fill="#fff" stroke="#ff0000" stroke-width="3.4"/>
<circle cx="145.13" cy="467.94" r="3.95" fill="#fff" stroke="#ff0000" stroke-width="3.4"/>
<circle cx="152.73" cy="461.62" r="3.95" fill="#fff" stroke="#ff0000" stroke-width="3.4"/>
<circle cx="166.61" cy="451.57" r="3.95" fill="#fff" stroke="#ff0000" stroke-width="3.4"/>
<circle cx="185.39" cy="438.92" r="3.95" fill="#fff" stroke="#ff0000" stroke-width="3.4"/>
<circle cx="193.09" cy="432.97" r="3.95" fill="#fff" stroke="#ff0000" stroke-width="3.4"/>
<line x1="64" y1="524" x2="197.2" y2="429.3" stroke="#000" stroke-width="1.7" stroke-dasharray="0.01,2.6" stroke-linecap="round"/>
<rect x="54" y="310.6" width="150.35" height="222.25" fill="none" stroke="#000" stroke-width="2.6"/>
<line x1="54" y1="422.1" x2="204.35" y2="422.1" stroke="#000" stroke-width="2.6"/>
<line x1="54" y1="321.6" x2="56.5" y2="321.6" stroke="#000" stroke-width="1.6"/>
<line x1="54" y1="432.6" x2="56.5" y2="432.6" stroke="#000" stroke-width="1.6"/>
<text x="47.4" y="326.4" font-size="13" text-anchor="end" stroke="#000" stroke-width="0.22">10<tspan font-size="9" dx="0.9" dy="-5.6">0</tspan></text>
<text x="47.4" y="437.4" font-size="13" text-anchor="end" stroke="#000" stroke-width="0.22">10<tspan font-size="9" dx="0.9" dy="-5.6">0</tspan></text>
<line x1="54" y1="358.6" x2="56.5" y2="358.6" stroke="#000" stroke-width="1.6"/>
<line x1="54" y1="469.8" x2="56.5" y2="469.8" stroke="#000" stroke-width="1.6"/>
<text x="47.4" y="363.4" font-size="13" text-anchor="end" stroke="#000" stroke-width="0.22">10<tspan font-size="9" dx="0.9" dy="-5.6">−1</tspan></text>
<text x="47.4" y="474.6" font-size="13" text-anchor="end" stroke="#000" stroke-width="0.22">10<tspan font-size="9" dx="0.9" dy="-5.6">−1</tspan></text>
<line x1="54" y1="395.6" x2="56.5" y2="395.6" stroke="#000" stroke-width="1.6"/>
<line x1="54" y1="507" x2="56.5" y2="507" stroke="#000" stroke-width="1.6"/>
<text x="47.4" y="400.4" font-size="13" text-anchor="end" stroke="#000" stroke-width="0.22">10<tspan font-size="9" dx="0.9" dy="-5.6">−2</tspan></text>
<text x="47.4" y="511.8" font-size="13" text-anchor="end" stroke="#000" stroke-width="0.22">10<tspan font-size="9" dx="0.9" dy="-5.6">−2</tspan></text>
<line x1="80.2" y1="532.85" x2="80.2" y2="530.35" stroke="#000" stroke-width="1.6"/>
<line x1="80.2" y1="422.1" x2="80.2" y2="419.6" stroke="#000" stroke-width="1.6"/>
<text x="80.2" y="549.4" font-size="13" text-anchor="middle" stroke="#000" stroke-width="0.22">0.01</text>
<line x1="130.15" y1="532.85" x2="130.15" y2="530.35" stroke="#000" stroke-width="1.6"/>
<line x1="130.15" y1="422.1" x2="130.15" y2="419.6" stroke="#000" stroke-width="1.6"/>
<text x="130.15" y="549.4" font-size="13" text-anchor="middle" stroke="#000" stroke-width="0.22">0.1</text>
<line x1="180.1" y1="532.85" x2="180.1" y2="530.35" stroke="#000" stroke-width="1.6"/>
<line x1="180.1" y1="422.1" x2="180.1" y2="419.6" stroke="#000" stroke-width="1.6"/>
<text x="180.1" y="549.4" font-size="13" text-anchor="middle" stroke="#000" stroke-width="0.22">1</text>
<text x="129.5" y="568.8" font-size="13.25" text-anchor="middle" stroke="#000" stroke-width="0.22">Incident power (μW)</text>
<text transform="translate(10.9,420.8) rotate(-90)" font-size="13.2" text-anchor="middle" stroke="#000" stroke-width="0.22">Normalized photocurrent (a.u.)</text>
<text x="59.3" y="322.2" font-size="7.7" stroke="#000" stroke-width="0">1310 nm illumination</text>
<text x="59.3" y="331.5" font-size="7.7" stroke="#000" stroke-width="0">1 μm AL on GMR Si</text>
<text x="71" y="448" font-size="7.7" stroke="#000" stroke-width="0">1310 nm illumination</text>
<text x="71" y="456.8" font-size="7.7" stroke="#000" stroke-width="0">0.5 μm AL on GMR Si</text>
<text x="137.6" y="393.5" font-size="8.1" stroke="#000" stroke-width="0"><tspan font-style="italic">I</tspan><tspan font-size="5.6" dy="1.8">ph</tspan><tspan dy="-1.8"> = </tspan><tspan font-style="italic">PA</tspan><tspan font-size="5.2" dy="-4" fill="#5555ff" stroke="#5555ff">0.94</tspan></text>
<text x="145.8" y="509" font-size="8.1" stroke="#000" stroke-width="0"><tspan font-style="italic">I</tspan><tspan font-size="5.6" dy="1.8">ph</tspan><tspan dy="-1.8"> = </tspan><tspan font-style="italic">PA</tspan><tspan font-size="5.2" dy="-4" fill="#ff5555" stroke="#ff5555">0.99</tspan></text>
<clipPath id="ce"><rect x="290.5" y="318.7" width="154.1" height="202.65"/></clipPath>
<g clip-path="url(#ce)">
<polyline points="296.64,319.52 297.25,325.2 297.87,330.39 298.48,335.16 299.1,339.58 299.71,343.7 300.32,347.54 300.94,351.16 301.55,354.57 302.17,357.79 302.78,360.85 303.39,363.76 304.01,366.53 304.62,369.18 305.24,371.72 305.85,374.16 306.46,376.49 307.08,378.75 307.69,380.91 308.31,383.01 308.92,385.03 309.53,386.98 310.15,388.88 310.76,390.71 311.38,392.49 311.99,394.22 312.6,395.9 313.22,397.53 313.83,399.12 314.45,400.67 315.06,402.18 315.67,403.65 316.29,405.09 316.9,406.49 317.52,407.87 318.13,409.21 318.74,410.52 319.36,411.8 319.97,413.05 320.59,414.28 321.2,415.49 321.81,416.67 322.43,417.83 323.04,418.96 323.66,420.08 324.27,421.17 324.88,422.25 325.5,423.3 326.11,424.34 326.73,425.36 327.34,426.36 327.95,427.34 328.57,428.31 329.18,429.27 329.8,430.21 330.41,431.13 331.02,432.04 331.64,432.94 332.25,433.82 332.87,434.69 333.48,435.55 334.09,436.4 334.71,437.23 335.32,438.05 335.94,438.86 336.55,439.66 337.16,440.45 337.78,441.23 338.39,442 339.01,442.76 339.62,443.51 340.23,444.25 340.85,444.99 341.46,445.71 342.08,446.42 342.69,447.13 343.3,447.83 343.92,448.51 344.53,449.2 345.15,449.87 345.76,450.54 346.37,451.2 346.99,451.85 347.6,452.49 348.22,453.13 348.83,453.76 349.44,454.38 350.06,455 350.67,455.61 351.29,456.22 351.9,456.82 352.51,457.41 353.13,458 353.74,458.58 354.36,459.16 354.97,459.73 355.58,460.29 356.2,460.85 356.81,461.41 357.43,461.96 358.04,462.5 358.65,463.04 359.27,463.58 359.88,464.11 360.5,464.63 361.11,465.15 361.72,465.67 362.34,466.18 362.95,466.69 363.57,467.19 364.18,467.69 364.79,468.19 365.41,468.68 366.02,469.16 366.64,469.65 367.25,470.12 367.86,470.6 368.48,471.07 369.09,471.54 369.71,472 370.32,472.46 370.93,472.92 371.55,473.37 372.16,473.82 372.78,474.27 373.39,474.71 374,475.15 374.62,475.59 375.23,476.02 375.85,476.45 376.46,476.88 377.07,477.31 377.69,477.73 378.3,478.15 378.92,478.56 379.53,478.97 380.14,479.38 380.76,479.79 381.37,480.2 381.99,480.6 382.6,481 383.21,481.39 383.83,481.79 384.44,482.18 385.06,482.57 385.67,482.95 386.28,483.34 386.9,483.72 387.51,484.09 388.13,484.47 388.74,484.84 389.35,485.22 389.97,485.59 390.58,485.95 391.2,486.32 391.81,486.68 392.42,487.04 393.04,487.4 393.65,487.75 394.27,488.11 394.88,488.46 395.49,488.81 396.11,489.16 396.72,489.5 397.34,489.85 397.95,490.19 398.56,490.53 399.18,490.87 399.79,491.2 400.41,491.54 401.02,491.87 401.63,492.2 402.25,492.53 402.86,492.85 403.48,493.18 404.09,493.5 404.7,493.82 405.32,494.14 405.93,494.46 406.55,494.78 407.16,495.09 407.77,495.4 408.39,495.72 409,496.03 409.62,496.33 410.23,496.64 410.84,496.95 411.46,497.25 412.07,497.55 412.69,497.85 413.3,498.15 413.91,498.45 414.53,498.74 415.14,499.04 415.76,499.33 416.37,499.62 416.98,499.91 417.6,500.2 418.21,500.49 418.83,500.78 419.44,501.06 420.05,501.34 420.67,501.62 421.28,501.91 421.9,502.18 422.51,502.46 423.12,502.74 423.74,503.01 424.35,503.29 424.97,503.56 425.58,503.83 426.19,504.1 426.81,504.37 427.42,504.64 428.04,504.91 428.65,505.17 429.26,505.44 429.88,505.7 430.49,505.96 431.11,506.22 431.72,506.48" fill="none" stroke="#444" stroke-width="2.5" stroke-linejoin="round" stroke-dasharray="0.01,5.1" stroke-linecap="round"/>
<polyline points="296.64,502.13 297.25,496.44 297.87,491.26 298.48,486.48 299.1,482.06 299.71,477.95 300.32,474.1 300.94,470.49 301.55,467.08 302.17,463.86 302.78,460.8 303.39,457.89 304.01,455.11 304.62,452.46 305.24,449.92 305.85,447.49 306.46,445.15 307.08,442.9 307.69,440.73 308.31,438.64 308.92,436.62 309.53,434.66 310.15,432.77 310.76,430.94 311.38,429.16 311.99,427.43 312.6,425.75 313.22,424.11 313.83,422.52 314.45,420.97 315.06,419.47 315.67,417.99 316.29,416.56 316.9,415.15 317.52,413.78 318.13,412.44 318.74,411.13 319.36,409.85 319.97,408.59 320.59,407.36 321.2,406.16 321.81,404.98 322.43,403.82 323.04,402.68 323.66,401.57 324.27,400.48 324.88,399.4 325.5,398.35 326.11,397.31 326.73,396.29 327.34,395.29 327.95,394.3 328.57,393.33 329.18,392.38 329.8,391.44 330.41,390.51 331.02,389.6 331.64,388.71 332.25,387.82 332.87,386.95 333.48,386.1 334.09,385.25 334.71,384.42 335.32,383.59 335.94,382.78 336.55,381.98 337.16,381.19 337.78,380.41 338.39,379.64 339.01,378.88 339.62,378.13 340.23,377.39 340.85,376.66 341.46,375.94 342.08,375.22 342.69,374.52 343.3,373.82 343.92,373.13 344.53,372.45 345.15,371.78 345.76,371.11 346.37,370.45 346.99,369.8 347.6,369.16 348.22,368.52 348.83,367.89 349.44,367.26 350.06,366.64 350.67,366.03 351.29,365.43 351.9,364.83 352.51,364.23 353.13,363.65 353.74,363.07 354.36,362.49 354.97,361.92 355.58,361.35 356.2,360.79 356.81,360.24 357.43,359.69 358.04,359.14 358.65,358.61 359.27,358.07 359.88,357.54 360.5,357.01 361.11,356.49 361.72,355.98 362.34,355.47 362.95,354.96 363.57,354.46 364.18,353.96 364.79,353.46 365.41,352.97 366.02,352.48 366.64,352 367.25,351.52 367.86,351.05 368.48,350.58 369.09,350.11 369.71,349.64 370.32,349.18 370.93,348.73 371.55,348.27 372.16,347.82 372.78,347.38 373.39,346.93 374,346.49 374.62,346.06 375.23,345.62 375.85,345.19 376.46,344.76 377.07,344.34 377.69,343.92 378.3,343.5 378.92,343.08 379.53,342.67 380.14,342.26 380.76,341.86 381.37,341.45 381.99,341.05 382.6,340.65 383.21,340.25 383.83,339.86 384.44,339.47 385.06,339.08 385.67,338.7 386.28,338.31 386.9,337.93 387.51,337.55 388.13,337.18 388.74,336.8 389.35,336.43 389.97,336.06 390.58,335.69 391.2,335.33 391.81,334.97 392.42,334.61 393.04,334.25 393.65,333.89 394.27,333.54 394.88,333.19 395.49,332.84 396.11,332.49 396.72,332.14 397.34,331.8 397.95,331.46 398.56,331.12 399.18,330.78 399.79,330.45 400.41,330.11 401.02,329.78 401.63,329.45 402.25,329.12 402.86,328.79 403.48,328.47 404.09,328.15 404.7,327.82 405.32,327.5 405.93,327.19 406.55,326.87 407.16,326.56 407.77,326.24 408.39,325.93 409,325.62 409.62,325.31 410.23,325.01 410.84,324.7 411.46,324.4 412.07,324.1 412.69,323.8 413.3,323.5 413.91,323.2 414.53,322.9 415.14,322.61 415.76,322.32 416.37,322.02 416.98,321.73 417.6,321.45 418.21,321.16 418.83,320.87 419.44,320.59 420.05,320.3 420.67,320.02 421.28,319.74 421.9,319.46 422.51,319.18 423.12,318.91 423.74,318.63 424.35,318.36 424.97,318.09 425.58,317.81 426.19,317.54 426.81,317.27 427.42,317.01 428.04,316.74 428.65,316.47 429.26,316.21 429.88,315.95 430.49,315.68 431.11,315.42 431.72,315.16 432.33,314.9 432.95,314.65 433.56,314.39 434.18,314.13 434.79,313.88 435.4,313.63 436.02,313.38 436.63,313.12 437.25,312.87 437.86,312.62" fill="none" stroke="#ee3333" stroke-width="2.3" stroke-linejoin="round" stroke-dasharray="8.5,4.2,2,4.2"/>
<polyline points="296.64,502.27 302.78,461.62 308.92,441.3 315.06,432.24 321.2,431.56 327.34,434.16 333.48,440.07 339.62,446.38 345.76,452.15 351.9,458.19 358.04,463.55 364.18,468.21 370.32,472.88 376.46,477.69 382.6,481.12 388.74,485.1 394.88,488.67 401.02,492.24 407.16,495.26 413.3,498.01 419.44,501.03 425.58,503.5 431.72,506.25" fill="none" stroke="#1f6fe0" stroke-width="2.4" stroke-linejoin="round" stroke-dasharray="8,4"/>
<polygon points="296.64,497.41 291.54,506.24 301.74,506.24" fill="#1f6fe0"/>
<polygon points="302.78,456.77 297.68,465.6 307.88,465.6" fill="#1f6fe0"/>
<polygon points="308.92,436.45 303.82,445.28 314.02,445.28" fill="#1f6fe0"/>
<polygon points="315.06,427.38 309.96,436.22 320.16,436.22" fill="#1f6fe0"/>
<polygon points="321.2,426.7 316.1,435.53 326.3,435.53" fill="#1f6fe0"/>
<polygon points="327.34,429.31 322.24,438.14 332.44,438.14" fill="#1f6fe0"/>
<polygon points="333.48,435.21 328.38,444.04 338.58,444.04" fill="#1f6fe0"/>
<polygon points="339.62,441.53 334.52,450.36 344.72,450.36" fill="#1f6fe0"/>
<polygon points="345.76,447.29 340.66,456.13 350.86,456.13" fill="#1f6fe0"/>
<polygon points="351.9,453.33 346.8,462.17 357,462.17" fill="#1f6fe0"/>
<polygon points="358.04,458.69 352.94,467.52 363.14,467.52" fill="#1f6fe0"/>
<polygon points="364.18,463.36 359.08,472.19 369.28,472.19" fill="#1f6fe0"/>
<polygon points="370.32,468.02 365.22,476.86 375.42,476.86" fill="#1f6fe0"/>
<polygon points="376.46,472.83 371.36,481.66 381.56,481.66" fill="#1f6fe0"/>
<polygon points="382.6,476.26 377.5,485.1 387.7,485.1" fill="#1f6fe0"/>
<polygon points="388.74,480.24 383.64,489.08 393.84,489.08" fill="#1f6fe0"/>
<polygon points="394.88,483.81 389.78,492.65 399.98,492.65" fill="#1f6fe0"/>
<polygon points="401.02,487.38 395.92,496.22 406.12,496.22" fill="#1f6fe0"/>
<polygon points="407.16,490.4 402.06,499.24 412.26,499.24" fill="#1f6fe0"/>
<polygon points="413.3,493.15 408.2,501.98 418.4,501.98" fill="#1f6fe0"/>
<polygon points="419.44,496.17 414.34,505 424.54,505" fill="#1f6fe0"/>
<polygon points="425.58,498.64 420.48,507.48 430.68,507.48" fill="#1f6fe0"/>
<polygon points="431.72,501.39 426.62,510.22 436.82,510.22" fill="#1f6fe0"/>
</g>
<rect x="290.5" y="318.7" width="154.1" height="202.65" fill="none" stroke="#000" stroke-width="2.8"/>
<line x1="290.5" y1="521.35" x2="293" y2="521.35" stroke="#000" stroke-width="1.6"/>
<line x1="290.5" y1="384.05" x2="293" y2="384.05" stroke="#000" stroke-width="1.6"/>
<text x="283.6" y="388.3" font-size="13" text-anchor="end" stroke="#000" stroke-width="0.22">10<tspan font-size="9.2" dx="0.9" dy="-5.8">11</tspan></text>
<text x="283.6" y="525.6" font-size="13" text-anchor="end" stroke="#000" stroke-width="0.22">10<tspan font-size="9.2" dx="0.9" dy="-5.8">10</tspan></text>
<line x1="290.5" y1="521.35" x2="290.5" y2="518.85" stroke="#000" stroke-width="1.6"/>
<text x="290.5" y="537.6" font-size="13" text-anchor="middle" stroke="#000" stroke-width="0.22">0.0</text>
<line x1="321.2" y1="521.35" x2="321.2" y2="518.85" stroke="#000" stroke-width="1.6"/>
<text x="321.2" y="537.6" font-size="13" text-anchor="middle" stroke="#000" stroke-width="0.22">0.5</text>
<line x1="351.9" y1="521.35" x2="351.9" y2="518.85" stroke="#000" stroke-width="1.6"/>
<text x="351.9" y="537.6" font-size="13" text-anchor="middle" stroke="#000" stroke-width="0.22">1.0</text>
<line x1="382.6" y1="521.35" x2="382.6" y2="518.85" stroke="#000" stroke-width="1.6"/>
<text x="382.6" y="537.6" font-size="13" text-anchor="middle" stroke="#000" stroke-width="0.22">1.5</text>
<line x1="413.3" y1="521.35" x2="413.3" y2="518.85" stroke="#000" stroke-width="1.6"/>
<text x="413.3" y="537.6" font-size="13" text-anchor="middle" stroke="#000" stroke-width="0.22">2.0</text>
<line x1="444" y1="521.35" x2="444" y2="518.85" stroke="#000" stroke-width="1.6"/>
<text x="444" y="537.6" font-size="13" text-anchor="middle" stroke="#000" stroke-width="0.22">2.5</text>
<text x="344" y="556.8" font-size="13" stroke="#000" stroke-width="0.22"><tspan font-style="italic">T</tspan><tspan font-size="9.3" dy="3.8">AL</tspan><tspan dy="-3.8"> (μm)</tspan></text>
<text transform="translate(247.4,420.4) rotate(-90)" font-size="13.2" text-anchor="middle" stroke="#000" stroke-width="0.22">Calculated <tspan font-style="italic">f</tspan><tspan font-size="9.3" dy="3.8">3dB</tspan><tspan dy="-3.8"> (Hz)</tspan></text>
<text x="373.7" y="372" font-size="9.4" stroke="#000" stroke-width="0.05">15 × 15 μm<tspan font-size="6.5" dy="-3.5">2</tspan></text>
<line x1="362.9" y1="396" x2="389.2" y2="396" stroke="#444" stroke-width="2.3" stroke-dasharray="0.01,4.35" stroke-linecap="round"/>
<line x1="362.1" y1="414.8" x2="392.9" y2="414.8" stroke="#ee3333" stroke-width="2.3" stroke-dasharray="9.3,4.6,2.6,4.6"/>
<line x1="362.1" y1="433.4" x2="392.9" y2="433.4" stroke="#1f6fe0" stroke-width="2.4"/>
<polygon points="377.6,428.54 372.5,437.37 382.7,437.37" fill="#1f6fe0"/>
<text x="397.5" y="399.5" font-size="11" stroke="#000" stroke-width="0.05"><tspan font-style="italic">f</tspan><tspan font-size="7.6" dy="4">Transit</tspan></text>
<text x="397.5" y="418.3" font-size="11" stroke="#000" stroke-width="0.05"><tspan font-style="italic">f</tspan><tspan font-size="7.6" dy="4">RC</tspan></text>
<text x="397.5" y="437" font-size="11" stroke="#000" stroke-width="0.05"><tspan font-style="italic">f</tspan><tspan font-size="7.6" dy="4">3dB</tspan></text>
<rect x="527.8" y="344.9" width="8" height="8" fill="#4d4d4d"/>
<rect x="535" y="345.99" width="8" height="8" fill="#4d4d4d"/>
<rect x="547" y="356.37" width="8" height="8" fill="#4d4d4d"/>
<rect x="559" y="386.15" width="8" height="8" fill="#4d4d4d"/>
<rect x="571" y="418.1" width="8" height="8" fill="#4d4d4d"/>
<rect x="595" y="461.26" width="8" height="8" fill="#4d4d4d"/>
<rect x="619" y="480.11" width="8" height="8" fill="#4d4d4d"/>
<rect x="643" y="489.67" width="8" height="8" fill="#4d4d4d"/>
<line x1="539.5" y1="319" x2="539.5" y2="521.1" stroke="#333" stroke-width="0.8" stroke-dasharray="2.6,1.8"/>
<rect x="517.4" y="319" width="153.25" height="202.1" fill="none" stroke="#000" stroke-width="2.8"/>
<line x1="517.4" y1="510.2" x2="519.9" y2="510.2" stroke="#000" stroke-width="1.6"/>
<text x="510.6" y="514.5" font-size="13" text-anchor="end" stroke="#000" stroke-width="0.22">0</text>
<line x1="517.4" y1="482.89" x2="519.9" y2="482.89" stroke="#000" stroke-width="1.6"/>
<text x="510.6" y="487.19" font-size="13" text-anchor="end" stroke="#000" stroke-width="0.22">10</text>
<line x1="517.4" y1="455.57" x2="519.9" y2="455.57" stroke="#000" stroke-width="1.6"/>
<text x="510.6" y="459.87" font-size="13" text-anchor="end" stroke="#000" stroke-width="0.22">20</text>
<line x1="517.4" y1="428.26" x2="519.9" y2="428.26" stroke="#000" stroke-width="1.6"/>
<text x="510.6" y="432.56" font-size="13" text-anchor="end" stroke="#000" stroke-width="0.22">30</text>
<line x1="517.4" y1="400.94" x2="519.9" y2="400.94" stroke="#000" stroke-width="1.6"/>
<text x="510.6" y="405.24" font-size="13" text-anchor="end" stroke="#000" stroke-width="0.22">40</text>
<line x1="517.4" y1="373.63" x2="519.9" y2="373.63" stroke="#000" stroke-width="1.6"/>
<text x="510.6" y="377.93" font-size="13" text-anchor="end" stroke="#000" stroke-width="0.22">50</text>
<line x1="517.4" y1="346.32" x2="519.9" y2="346.32" stroke="#000" stroke-width="1.6"/>
<text x="510.6" y="350.62" font-size="13" text-anchor="end" stroke="#000" stroke-width="0.22">60</text>
<line x1="517.4" y1="319" x2="519.9" y2="319" stroke="#000" stroke-width="1.6"/>
<text x="510.6" y="323.3" font-size="13" text-anchor="end" stroke="#000" stroke-width="0.22">70</text>
<line x1="527" y1="521.1" x2="527" y2="518.6" stroke="#000" stroke-width="1.6"/>
<text x="527" y="537.4" font-size="13" text-anchor="middle" stroke="#000" stroke-width="0.22">0</text>
<line x1="551" y1="521.1" x2="551" y2="518.6" stroke="#000" stroke-width="1.6"/>
<text x="551" y="537.4" font-size="13" text-anchor="middle" stroke="#000" stroke-width="0.22">10</text>
<line x1="575" y1="521.1" x2="575" y2="518.6" stroke="#000" stroke-width="1.6"/>
<text x="575" y="537.4" font-size="13" text-anchor="middle" stroke="#000" stroke-width="0.22">20</text>
<line x1="599" y1="521.1" x2="599" y2="518.6" stroke="#000" stroke-width="1.6"/>
<text x="599" y="537.4" font-size="13" text-anchor="middle" stroke="#000" stroke-width="0.22">30</text>
<line x1="623" y1="521.1" x2="623" y2="518.6" stroke="#000" stroke-width="1.6"/>
<text x="623" y="537.4" font-size="13" text-anchor="middle" stroke="#000" stroke-width="0.22">40</text>
<line x1="647" y1="521.1" x2="647" y2="518.6" stroke="#000" stroke-width="1.6"/>
<text x="647" y="537.4" font-size="13" text-anchor="middle" stroke="#000" stroke-width="0.22">50</text>
<line x1="671" y1="521.1" x2="671" y2="518.6" stroke="#000" stroke-width="1.6"/>
<text x="671" y="537.4" font-size="13" text-anchor="middle" stroke="#000" stroke-width="0.22">60</text>
<text x="594.3" y="557" font-size="13" text-anchor="middle" stroke="#000" stroke-width="0.22">Device width (μm)</text>
<text transform="translate(484.3,421.5) rotate(-90)" font-size="13" text-anchor="middle" stroke="#000" stroke-width="0.22"><tspan font-style="italic">f</tspan><tspan font-size="9.3" dy="3.8">3dB</tspan><tspan dy="-3.8"> (GHz)</tspan></text>
<line x1="544.8" y1="332.3" x2="528" y2="332.3" stroke="#555" stroke-width="0.8"/>
<polygon points="525.3,332.3 530.5,330.6 530.5,334" fill="#222"/>
<text x="551.2" y="336.3" font-size="11.55" stroke="#000" stroke-width="0.05">Transit time limited</text>
<line x1="527" y1="444.9" x2="552" y2="444.9" stroke="#555" stroke-width="0.8"/>
<polygon points="556.7,444.9 551.5,443.2 551.5,446.6" fill="#222"/>
<text x="562.1" y="447" font-size="11.4" stroke="#000" stroke-width="0.05">RC time limited</text>
<text x="544.6" y="480.1" font-size="9.4" stroke="#000" stroke-width="0.05"><tspan font-style="italic">T</tspan><tspan font-size="6.6" dy="2.4">AL</tspan><tspan dy="-2.4"> = 0.5 μm</tspan></text>
<text x="544.6" y="496.5" font-size="9.4" stroke="#000" stroke-width="0.05"><tspan font-style="italic">R</tspan> = 50 Ohm</text>
<text x="544.6" y="512.6" font-size="9.4" stroke="#000" stroke-width="0.05"><tspan font-style="italic">V</tspan><tspan font-size="6.6" dy="2.6">s</tspan><tspan dy="-2.6"> = 5.3 × 10</tspan><tspan font-size="6.6" dy="-4">6</tspan><tspan dy="4"> cm/s</tspan></text>
</svg>
</body></html>
